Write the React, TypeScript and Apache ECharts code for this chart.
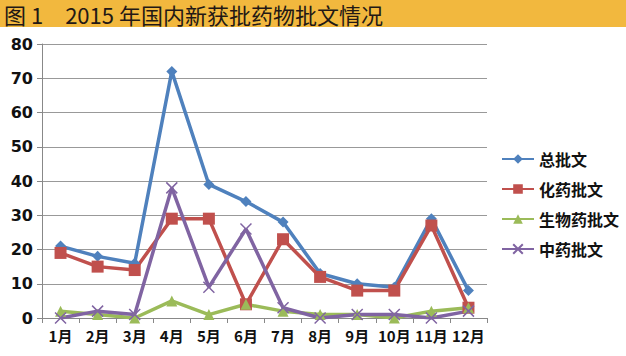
import React, { useEffect, useRef } from "react";
import * as echarts from "echarts";

const months = ["1月", "2月", "3月", "4月", "5月", "6月", "7月", "8月", "9月", "10月", "11月", "12月"];
const totalApprovals = [21, 18, 16, 72, 39, 34, 28, 13, 10, 9, 29, 8];
const chemApprovals = [19, 15, 14, 29, 29, 4, 23, 12, 8, 8, 27, 3];
const bioApprovals = [2, 1, 0, 5, 1, 4, 2, 1, 1, 0, 2, 3];
const tcmApprovals = [0, 2, 1, 38, 9, 26, 3, 0, 1, 1, 0, 2];
const seriesNames = ["总批文", "化药批文", "生物药批文", "中药批文"];
const titleText = "图 1　2015 年国内新获批药物批文情况";

const FONT = "'Noto Sans CJK SC', 'Noto Sans', sans-serif";

export default function App() {
  const ref = useRef<HTMLDivElement>(null);
  useEffect(() => {
    document.body.style.margin = "0";
    const chart = echarts.init(ref.current!, null, { renderer: "svg" });
    const mk = (name: string, data: number[], color: string, symbol: string, size: number, extra: any = {}) => ({
      name,
      type: "line",
      data,
      symbol,
      symbolSize: size,
      showSymbol: true,
      lineStyle: { color, width: 3.5 },
      itemStyle: { color, ...extra },
      z: 3,
    });
    chart.setOption({
      animation: false,
      backgroundColor: "#fff",
      graphic: [
        { type: "rect", left: 0, top: 0, shape: { width: 626, height: 27 }, style: { fill: "#F2B83E" }, z: -1 },
      ],
      title: {
        text: titleText,
        left: 4,
        top: 3,
        padding: 0,
        textStyle: { fontFamily: FONT, fontSize: 22, fontWeight: "normal", color: "#231815", lineHeight: 22 },
      },
      grid: { left: 42, right: 139, top: 44, bottom: 38 },
      legend: {
        orient: "vertical",
        left: 496,
        top: 146,
        itemGap: 14,
        itemWidth: 32,
        itemHeight: 12,
        textStyle: { fontFamily: FONT, fontSize: 16, fontWeight: "bold", color: "#111" },
        data: seriesNames,
      },
      xAxis: {
        type: "category",
        data: months,
        boundaryGap: true,
        axisLine: { lineStyle: { color: "#888", width: 1 } },
        axisTick: { show: true, length: 5, lineStyle: { color: "#888" } },
        axisLabel: { fontFamily: FONT, fontSize: 15, fontWeight: "bold", color: "#111", margin: 10, interval: 0 },
      },
      yAxis: {
        type: "value",
        min: 0,
        max: 80,
        interval: 10,
        axisLine: { show: true, lineStyle: { color: "#888", width: 1 } },
        axisTick: { show: true, length: 5, lineStyle: { color: "#888" } },
        splitLine: { lineStyle: { color: "#999", width: 1 } },
        axisLabel: { fontFamily: "'DejaVu Sans', sans-serif", fontSize: 16, fontWeight: "bold", color: "#111", margin: 9 },
      },
      series: [
        mk(seriesNames[0], totalApprovals, "#4F81BD", "diamond", 11),
        mk(seriesNames[1], chemApprovals, "#C0504D", "rect", 12),
        mk(seriesNames[2], bioApprovals, "#9BBB59", "triangle", 11),
        mk(seriesNames[3], tcmApprovals, "#8064A2", "path://M0,0L10,10M10,0L0,10", 11, {
          borderColor: "#8064A2",
          borderWidth: 1.5,
        }),
      ],
    });
    return () => chart.dispose();
  }, []);
  return <div ref={ref} style={{ width: 626, height: 356 }} />;
}
